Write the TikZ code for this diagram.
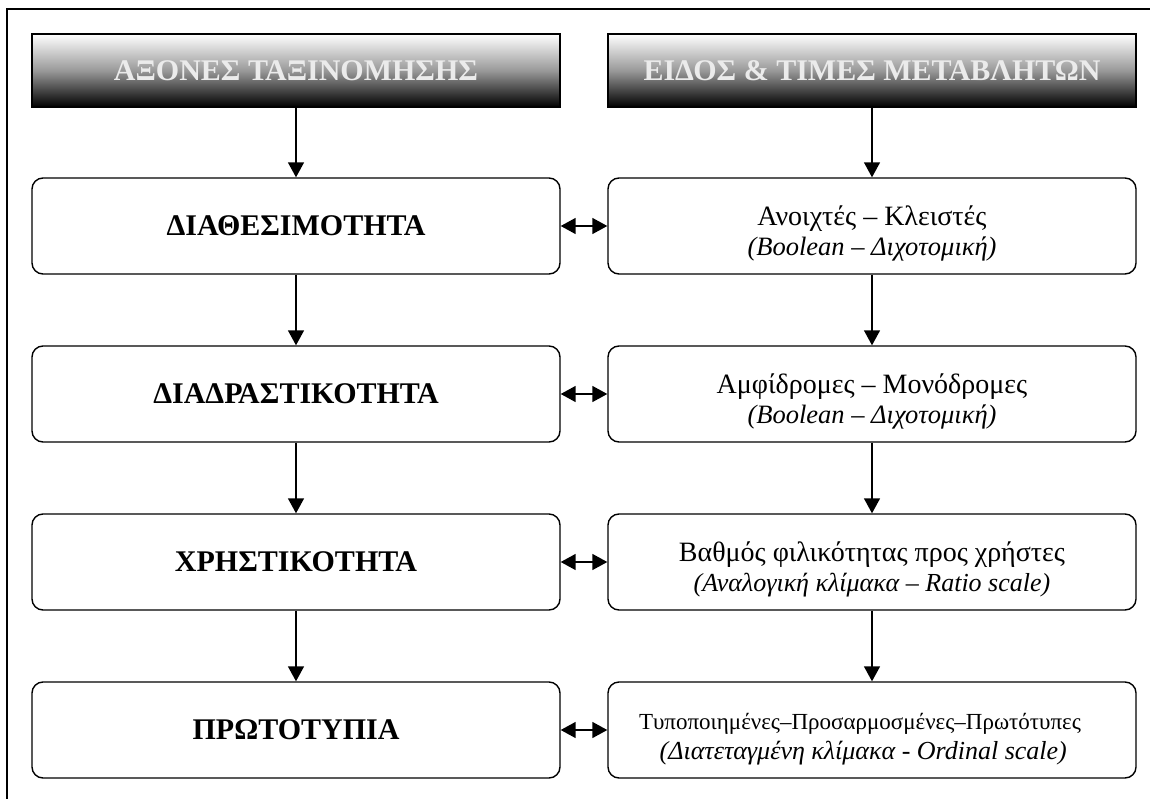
\documentclass[tikz,border=0pt]{standalone}
\usepackage{fontspec}
\setmainfont{Liberation Serif}
\usetikzlibrary{arrows.meta}
\newcommand{\twolines}[3][0pt]{\raisebox{-15pt}[0pt][0pt]{\begin{tabular}{@{}c@{}}#2\\#3\end{tabular}}\hspace*{#1}}
\begin{document}
\begin{tikzpicture}[x=1pt,y=-1pt,
  hdr/.style={draw=black, line width=1.4pt, minimum width=528pt, minimum height=73pt, inner sep=0pt,
    top color=white, bottom color=black, middle color=black!40, text=white!92!black,
    font=\bfseries\fontsize{30}{34}\selectfont},
  lbox/.style={draw, line width=1.4pt, rounded corners=11pt, minimum width=528pt, minimum height=96pt,
    inner sep=0pt, align=center, font=\bfseries\fontsize{30}{34}\selectfont},
  rbox/.style={draw, line width=1.4pt, rounded corners=11pt, minimum width=528pt, minimum height=96pt,
    inner sep=0pt, font=\fontsize{28}{30}\selectfont},
  arr/.style={line width=1.5pt, -{Triangle[width=16pt,length=15pt]}},
  dbl/.style={line width=1.5pt, {Triangle[width=16pt,length=15pt]}-{Triangle[width=16pt,length=15pt]}},
  frame/.style={line width=1.5pt}
]
\useasboundingbox (0,0) rectangle (1150,799);
\draw[frame] (7,805) -- (7,9) -- (1160,9);

\node[hdr] (h1) at (296,70.5) {ΑΞΟΝΕΣ ΤΑΞΙΝΟΜΗΣΗΣ};
\node[hdr] (h2) at (872,70.5) {ΕΙΔΟΣ \& ΤΙΜΕΣ ΜΕΤΑΒΛΗΤΩΝ};

\node[lbox] (l1) at (296,226) {ΔΙΑΘΕΣΙΜΟΤΗΤΑ};
\node[lbox] (l2) at (296,394) {ΔΙΑΔΡΑΣΤΙΚΟΤΗΤΑ};
\node[lbox] (l3) at (296,562) {ΧΡΗΣΤΙΚΟΤΗΤΑ};
\node[lbox] (l4) at (296,730) {ΠΡΩΤΟΤΥΠΙΑ};

\node[rbox] (r1) at (872,226) {\twolines{Ανοιχτές – Κλειστές}{{\fontsize{26.5}{30}\selectfont\itshape (Boolean – Διχοτομική)}}};
\node[rbox] (r2) at (872,394) {\twolines{Αμφίδρομες – Μονόδρομες}{{\fontsize{26.5}{30}\selectfont\itshape (Boolean – Διχοτομική)}}};
\node[rbox] (r3) at (872,562) {\twolines{Βαθμός φιλικότητας προς χρήστες}{{\fontsize{26}{30}\selectfont\itshape (Αναλογική κλίμακα – Ratio scale)}}};
\node[rbox] (r4) at (872,730) {\twolines[24pt]{{\fontsize{23}{30}\selectfont Τυποποιημένες–Προσαρμοσμένες–Πρωτότυπες}}{{\fontsize{26}{30}\selectfont\itshape \ (Διατεταγμένη κλίμακα - Ordinal scale)}}};

\draw[arr] (h1) -- (l1);
\draw[arr] (l1) -- (l2);
\draw[arr] (l2) -- (l3);
\draw[arr] (l3) -- (l4);
\draw[arr] (h2) -- (r1);
\draw[arr] (r1) -- (r2);
\draw[arr] (r2) -- (r3);
\draw[arr] (r3) -- (r4);

\draw[dbl] (l1) -- (r1);
\draw[dbl] (l2) -- (r2);
\draw[dbl] (l3) -- (r3);
\draw[dbl] (l4) -- (r4);
\end{tikzpicture}
\end{document}
